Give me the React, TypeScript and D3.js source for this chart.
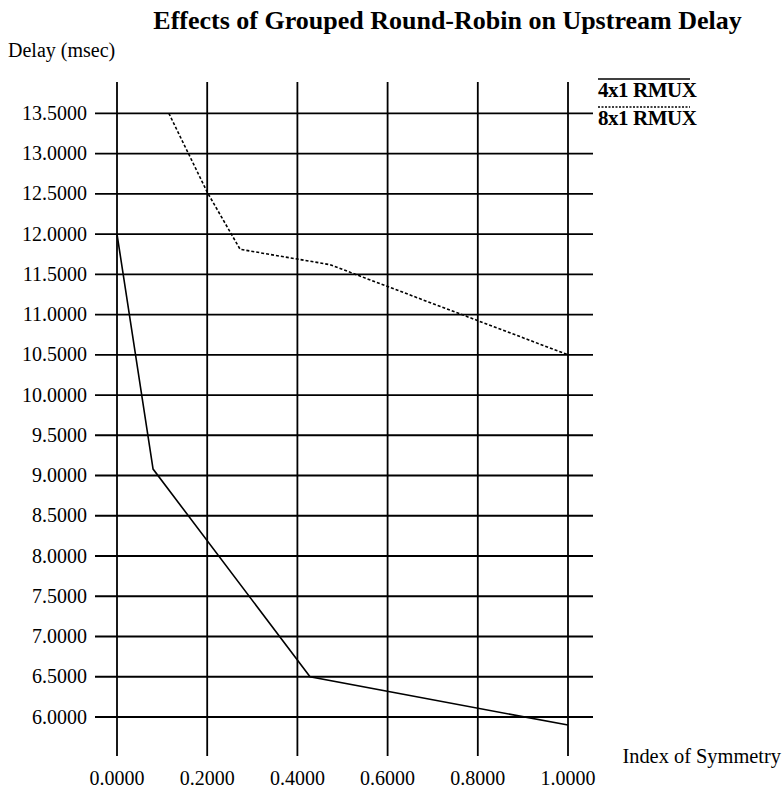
import React from "react";
import * as d3 from "d3";

const title = "Effects of Grouped Round-Robin on Upstream Delay";
const yLabel = "Delay (msec)";
const xLabel = "Index of Symmetry";
const xTicks = [0, 0.2, 0.4, 0.6, 0.8, 1.0];
const yTicks = [6.0, 6.5, 7.0, 7.5, 8.0, 8.5, 9.0, 9.5, 10.0, 10.5, 11.0, 11.5, 12.0, 12.5, 13.0, 13.5];
const series4x1X = [0, 0.08, 0.428, 1.0];
const series4x1Y = [12.0, 9.08, 6.5, 5.9];
const series8x1X = [0.115, 0.2, 0.273, 0.472, 1.0];
const series8x1Y = [13.5, 12.52, 11.81, 11.62, 10.5];
const legendNames = ["4x1 RMUX", "8x1 RMUX"];

export default function App() {
  const W = 784, H = 788;
  const x = d3.scaleLinear().domain([0, 1]).range([117, 568]);
  const y = d3.scaleLinear().domain([6, 13.5]).range([717, 113.3]);
  const fmt = d3.format(".4f");
  const line = d3.line<[number, number]>().x(d => x(d[0])).y(d => y(d[1]));
  const d4 = series4x1X.map((v, i) => [v, series4x1Y[i]] as [number, number]);
  const d8 = series8x1X.map((v, i) => [v, series8x1Y[i]] as [number, number]);
  const font = "'Liberation Serif', 'Times New Roman', serif";
  const gridL = 95, gridR = 593, gridT = 82, gridB = 756;
  return (
    <svg width={W} height={H} style={{ position: "absolute", left: 0, top: 0, background: "#fff" }} fontFamily={font}>
      <rect x={0} y={0} width={W} height={H} fill="#fff" />
      <text x={447.5} y={29} textAnchor="middle" fontSize={26} fontWeight="bold">{title}</text>
      <text x={8} y={57} fontSize={20}>{yLabel}</text>
      {yTicks.map(t => (
        <g key={"y" + t}>
          <line x1={gridL} x2={gridR} y1={y(t)} y2={y(t)} stroke="#000" strokeWidth={1.8} />
          <text x={87} y={y(t)} dy="0.33em" textAnchor="end" fontSize={20}>{fmt(t)}</text>
        </g>
      ))}
      {xTicks.map(t => (
        <g key={"x" + t}>
          <line x1={x(t)} x2={x(t)} y1={gridT} y2={gridB} stroke="#000" strokeWidth={1.8} />
          <text x={x(t)} y={785} textAnchor="middle" fontSize={20}>{fmt(t)}</text>
        </g>
      ))}
      <path d={line(d4) || ""} fill="none" stroke="#000" strokeWidth={1.6} />
      <path d={line(d8) || ""} fill="none" stroke="#000" strokeWidth={1.6} strokeDasharray="3,2" />
      <text x={781} y={763} textAnchor="end" fontSize={20.4}>{xLabel}</text>
      <line x1={598} x2={690} y1={79} y2={79} stroke="#000" strokeWidth={1.5} />
      <text x={598} y={97} fontSize={21} fontWeight="bold" textLength={99}>{legendNames[0]}</text>
      <line x1={598} x2={690} y1={107} y2={107} stroke="#000" strokeWidth={1.3} strokeDasharray="2,1.5" />
      <text x={598} y={125} fontSize={21} fontWeight="bold" textLength={99}>{legendNames[1]}</text>
    </svg>
  );
}
